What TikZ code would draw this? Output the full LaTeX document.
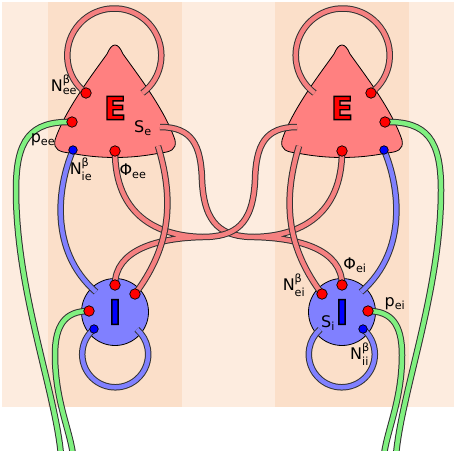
\documentclass[tikz,border=0pt]{standalone}
\usepackage{fontspec}
\setmainfont{DejaVu Sans}
\usepackage{amsmath}
\definecolor{bglight}{RGB}{253,236,223}
\definecolor{bgdark}{RGB}{251,223,201}
\definecolor{bodyred}{RGB}{255,128,128}
\definecolor{tubered}{RGB}{245,128,128}
\definecolor{bodyblue}{RGB}{128,128,255}
\definecolor{tubegreen}{RGB}{128,240,128}
\definecolor{edgegray}{RGB}{50,50,50}
\pgfdeclarelayer{back}
\pgfdeclarelayer{tubes}
\pgfsetlayers{back,tubes,main}
\newcommand{\Nlab}[1]{N$^{\text{β}}_{\text{#1}}$}
\newcommand{\sublab}[2]{#1$_{\text{#2}}$}
\newcommand{\outlined}[1]{\special{pdf:literal direct 0 0 0 RG 1.4 w 2 Tr}#1\special{pdf:literal direct 0 Tr}}
\newcommand{\Ebody}[1]{%
  \filldraw[ebody,shift={(#1,0)}] (-8,54) .. controls (-23,75) and (-50,110) .. (-60,140)
    .. controls (-62,150) and (-55,152) .. (-45,153) .. controls (-15,159) and (15,159) .. (45,153)
    .. controls (55,152) and (62,150) .. (60,140) .. controls (50,110) and (23,75) .. (8,54)
    .. controls (3,42) and (-3,42) .. cycle;}
\tikzset{
  ebody/.style={fill=bodyred,draw=black,line width=0.8pt},
  ibody/.style={circle,fill=bodyblue,draw=black,line width=0.8pt,minimum size=67pt,inner sep=0pt,
    text=blue,font=\fontsize{34}{34}\selectfont\bfseries},
  letter/.style={inner sep=0pt,text=red,font=\fontsize{32}{32}\selectfont\bfseries},
  rdot/.style={circle,fill=red,draw=black,line width=0.7pt,minimum size=10.5pt,inner sep=0pt},
  bdot/.style={rdot,fill=blue,minimum size=8.5pt},
  tube/.style={draw=edgegray,line width=1pt,double=#1,double distance=4.5pt},
  lbl/.style={inner sep=0pt,font=\fontsize{16}{18}\selectfont}
}
\begin{document}
\begin{tikzpicture}[x=1pt,y=-1pt]
  \useasboundingbox (0,0) rectangle (454,450);
  \begin{pgfonlayer}{back}
    \fill[bglight] (2,2) rectangle (454,407);
    \fill[bgdark] (48,2) rectangle (182,407);
    \fill[bgdark] (275,2) rectangle (409,407);
    \Ebody{115}
    \Ebody{342}
    \node[ibody] (lI) at (115,312) {\outlined{I}};
    \node[ibody] (rI) at (342,312) {\outlined{I}};
  \end{pgfonlayer}

  \node[letter] (lE) at (115,108) {\outlined{E}};
  \node[letter] (rE) at (342,108) {\outlined{E}};

  % dots on the E's:
  \node[rdot] (lNee) at (86,93) {};
  \node[rdot] (lpee) at (72,122) {};
  \node[bdot] (lNie) at (73,150) {};
  \node[rdot] (lPee) at (115,151) {};
  \node[rdot] (rNee) at (371,93) {};
  \node[rdot] (rpee) at (385,122) {};
  \node[bdot] (rNie) at (384,150) {};
  \node[rdot] (rPee) at (342,151) {};
  % dots on the I's:
  \node[rdot] (lPei) at (115,285) {};
  \node[rdot] (lNei) at (135,294) {};
  \node[rdot] (lpei) at (89,311) {};
  \node[bdot] (lNii) at (94,329) {};
  \node[rdot] (rPei) at (342,285) {};
  \node[rdot] (rNei) at (322,294) {};
  \node[rdot] (rpei) at (368,311) {};
  \node[bdot] (rNii) at (363,329) {};

  \node[lbl] (lNeelab) at (64,85) {\Nlab{ee}};
  \node[lbl] (lpeelab) at (43,140) {\sublab{p}{ee}};
  \node[lbl] (lNielab) at (81,169) {\Nlab{ie}};
  \node[lbl] (lPeelab) at (133,171) {\sublab{Φ}{ee}};
  \node[lbl] (lSelab) at (143,128) {\sublab{S}{e}};
  \node[lbl] (rPeilab) at (355,265) {\sublab{Φ}{ei}};
  \node[lbl] (rNeilab) at (294,285) {\Nlab{ei}};
  \node[lbl] (rpeilab) at (395,304) {\sublab{p}{ei}};
  \node[lbl] (rSilab) at (328,323) {\sublab{S}{i}};
  \node[lbl] (rNiilab) at (360,354) {\Nlab{ii}};

  \coordinate (lSe) at (160,127);
  \coordinate (rSe) at (297,127);
  \coordinate (lfork) at (255,237);
  \coordinate (rfork) at (202,237);

  \begin{pgfonlayer}{tubes}
    % long range E output, left E:
    \foreach \w/\c in {6.5pt/edgegray,4.5pt/tubered}{
      \draw[line width=\w,color=\c] (lSe) .. controls (192,127) and (201,145) .. (202,180)
        .. controls (204,225) and (222,237) .. (lfork) .. controls (300,236) and (342,215) .. (rPee.center)
        (lfork) .. controls (300,238) and (342,250) .. (rPei.center);
    }
    % long range E output, right E:
    \foreach \w/\c in {6.5pt/edgegray,4.5pt/tubered}{
      \draw[line width=\w,color=\c] (rSe) .. controls (265,127) and (256,145) .. (255,180)
        .. controls (253,225) and (235,237) .. (rfork) .. controls (157,236) and (115,215) .. (lPee.center)
        (rfork) .. controls (157,238) and (115,250) .. (lPei.center);
    }
    % local E -> I:
    \draw[tube=tubered] (158,146) .. controls (176,205) and (168,250) .. (lNei.center);
    \draw[tube=tubered] (299,146) .. controls (281,205) and (289,250) .. (rNei.center);
    % I -> E:
    \draw[tube=bodyblue] (lNie.center) .. controls (58,185) and (48,250) .. (96,292);
    \draw[tube=bodyblue] (rNie.center) .. controls (399,185) and (409,250) .. (361,292);
    % external input:
    \draw[tube=tubegreen] (lpee.center) .. controls (30,121) and (16,140) .. (16,190)
      .. controls (16,290) and (55,390) .. (61,455);
    \draw[tube=tubegreen] (lpei.center) .. controls (65,311) and (55,325) .. (55,355)
      .. controls (55,400) and (70,430) .. (73,455);
    \draw[tube=tubegreen] (rpee.center) .. controls (427,121) and (441,140) .. (441,190)
      .. controls (441,290) and (402,390) .. (396,455);
    \draw[tube=tubegreen] (rpei.center) .. controls (392,311) and (402,325) .. (402,355)
      .. controls (402,400) and (387,430) .. (384,455);
    % self loops:
    \draw[tube=tubered] (lNee.center) arc[start angle=127,end angle=413,radius=47];
    \draw[tube=tubered] (rNee.center) arc[start angle=53,end angle=-233,radius=47];
    \draw[tube=bodyblue] (lNii.center) arc[start angle=230,end angle=-49,radius=33];
    \draw[tube=bodyblue] (rNii.center) arc[start angle=-50,end angle=229,radius=33];
  \end{pgfonlayer}
\end{tikzpicture}
\end{document}
